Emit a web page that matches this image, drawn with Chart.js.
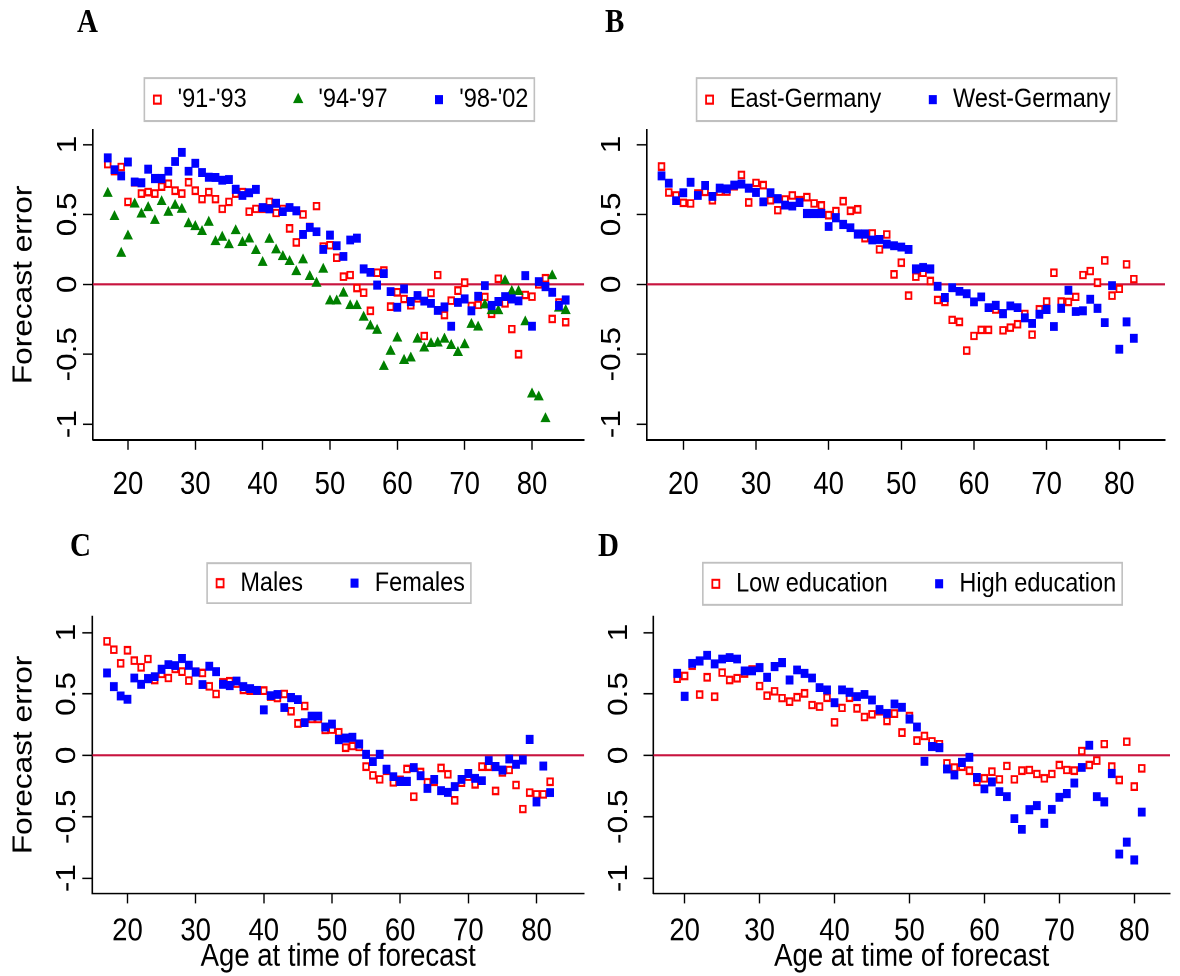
<!DOCTYPE html>
<html>
<head>
<meta charset="utf-8">
<title>Forecast error by age</title>
<script src="https://cdn.jsdelivr.net/npm/chart.js@4.4.1/dist/chart.umd.min.js"></script>
<style>
  html, body { margin: 0; padding: 0; background: #fff; overflow: hidden; }
  /* the figure is laid out 849px tall and stretched to the 976px page */
  #figure { position: absolute; left: 0; top: 0; width: 1180px; height: 849px;
            transform: scaleY(1.1496); transform-origin: 0 0; }
  #figure canvas { position: absolute; }
  .tag { position: absolute; font: bold 29px 'Liberation Serif', 'Times New Roman', serif;
         line-height: 29px; color: #000; }
</style>
</head>
<body>
<div id="figure">
  <canvas id="panelA" width="590" height="430" style="left:0;top:0"></canvas>
  <canvas id="panelB" width="590" height="430" style="left:590px;top:0"></canvas>
  <canvas id="panelC" width="590" height="425" style="left:0;top:424px"></canvas>
  <canvas id="panelD" width="590" height="425" style="left:590px;top:424px"></canvas>
  <div class="tag" style="left:77px;top:4px">A</div>
  <div class="tag" style="left:605px;top:4px">B</div>
  <div class="tag" style="left:70px;top:460px">C</div>
  <div class="tag" style="left:598px;top:460px">D</div>
</div>
<script>
// ---- data -------------------------------------------------------------
const xTicks = [20, 30, 40, 50, 60, 70, 80];
const yTicks = [-1, -0.5, 0, 0.5, 1];

// A: by survey period
const agesA = [17, 18, 19, 20, 21, 22, 23, 24, 25, 26, 27, 28, 29, 30, 31, 32, 33, 34, 35, 36,
  37, 38, 39, 40, 41, 42, 43, 44, 45, 46, 47, 48, 49, 50, 51, 52, 53, 54, 55, 56,
  57, 58, 59, 60, 61, 62, 63, 64, 65, 66, 67, 68, 69, 70, 71, 72, 73, 74, 75, 76,
  77, 78, 79, 80, 81, 82, 83, 84, 85];
const period9193 = [0.86, 0.81, 0.84, 0.59, 0.73, 0.65, 0.66, 0.65, 0.70, 0.72,
  0.67, 0.65, 0.73, 0.67, 0.61, 0.66, 0.61, 0.54, 0.59, 0.65,
  0.66, 0.52, 0.54, 0.54, 0.59, 0.51, 0.54, 0.40, 0.30, 0.50,
  0.41, 0.56, 0.27, 0.28, 0.19, 0.055, 0.067, -0.026, -0.06, -0.19,
  0.083, 0.098, -0.16, -0.057, -0.105, -0.15, -0.10, -0.37, -0.062, 0.067,
  -0.22, -0.117, -0.045, 0.012, -0.155, -0.148, -0.09, -0.21, 0.04, -0.136,
  -0.32, -0.50, -0.076, -0.088, 0.0, 0.043, -0.248, -0.131, -0.271];
const period9497 = [0.65, 0.483, 0.221, 0.345, 0.574, 0.502, 0.548, 0.455, 0.59, 0.514,
  0.564, 0.536, 0.433, 0.412, 0.376, 0.443, 0.305, 0.336, 0.281, 0.383,
  0.298, 0.324, 0.24, 0.155, 0.321, 0.245, 0.198, 0.162, 0.09, 0.174,
  0.055, 0.007, 0.107, -0.12, -0.12, -0.064, -0.155, -0.155, -0.236, -0.30,
  -0.33, -0.59, -0.48, -0.386, -0.545, -0.528, -0.393, -0.457, -0.426, -0.421,
  -0.393, -0.438, -0.488, -0.433, -0.288, -0.307, -0.148, -0.188, -0.19, 0.024,
  -0.052, -0.052, -0.27, -0.786, -0.807, -0.962, 0.06, -0.171, -0.188];
const period9802 = [0.905, 0.82, 0.776, 0.876, 0.733, 0.726, 0.824, 0.757, 0.757, 0.81,
  0.879, 0.945, 0.81, 0.867, 0.80, 0.767, 0.764, 0.745, 0.75, 0.68,
  0.636, 0.655, 0.679, 0.55, 0.54, 0.58, 0.52, 0.55, 0.526, 0.357,
  0.407, 0.376, 0.25, 0.352, 0.276, 0.2, 0.317, 0.33, 0.11, 0.086,
  -0.005, 0.076, -0.052, -0.164, -0.033, -0.124, -0.08, -0.12, -0.136, -0.186,
  -0.162, -0.30, -0.129, -0.105, -0.19, -0.086, -0.01, -0.152, -0.124, -0.088,
  -0.105, -0.119, 0.062, -0.30, 0.019, -0.017, -0.057, -0.152, -0.112];

// B: by region
const agesB = [17, 18, 19, 20, 21, 22, 23, 24, 25, 26, 27, 28, 29, 30, 31, 32, 33, 34, 35, 36,
  37, 38, 39, 40, 41, 42, 43, 44, 45, 46, 47, 48, 49, 50, 51, 52, 53, 54, 55, 56,
  57, 58, 59, 60, 61, 62, 63, 64, 65, 66, 67, 68, 69, 70, 71, 72, 73, 74, 75, 76,
  77, 78, 79, 80, 81, 82];
const eastGermany = [0.843, 0.657, 0.636, 0.583, 0.579, 0.65, 0.662, 0.602, 0.664, 0.664,
  0.702, 0.783, 0.586, 0.726, 0.71, 0.602, 0.531, 0.607, 0.636, 0.602,
  0.624, 0.579, 0.564, 0.495, 0.524, 0.595, 0.526, 0.536, 0.33, 0.364,
  0.25, 0.357, 0.071, 0.155, -0.081, 0.055, 0.083, 0.024, -0.112, -0.126,
  -0.255, -0.269, -0.474, -0.369, -0.326, -0.326, -0.18, -0.329, -0.31, -0.286,
  -0.212, -0.36, -0.179, -0.124, 0.083, -0.124, -0.126, -0.09, 0.067, 0.095,
  0.012, 0.171, -0.081, -0.033, 0.143, 0.038];
const westGermany = [0.776, 0.724, 0.598, 0.655, 0.731, 0.636, 0.707, 0.629, 0.688, 0.683,
  0.71, 0.717, 0.688, 0.657, 0.59, 0.655, 0.612, 0.567, 0.56, 0.586,
  0.507, 0.507, 0.507, 0.414, 0.476, 0.429, 0.405, 0.36, 0.36, 0.317,
  0.32, 0.288, 0.276, 0.267, 0.25, 0.11, 0.121, 0.11, -0.014, -0.095,
  -0.024, -0.05, -0.067, -0.126, -0.09, -0.167, -0.15, -0.21, -0.155, -0.167,
  -0.24, -0.28, -0.214, -0.179, -0.302, -0.171, -0.043, -0.195, -0.19, -0.107,
  -0.171, -0.274, -0.01, -0.464, -0.269, -0.386];

// C: by sex
const agesC = [17, 18, 19, 20, 21, 22, 23, 24, 25, 26, 27, 28, 29, 30, 31, 32, 33, 34, 35, 36,
  37, 38, 39, 40, 41, 42, 43, 44, 45, 46, 47, 48, 49, 50, 51, 52, 53, 54, 55, 56,
  57, 58, 59, 60, 61, 62, 63, 64, 65, 66, 67, 68, 69, 70, 71, 72, 73, 74, 75, 76,
  77, 78, 79, 80, 81, 82];
const males = [0.929, 0.861, 0.75, 0.856, 0.772, 0.717, 0.785, 0.614, 0.663, 0.63,
  0.704, 0.682, 0.609, 0.68, 0.671, 0.5625, 0.5, 0.595, 0.603, 0.584,
  0.533, 0.527, 0.527, 0.527, 0.48, 0.467, 0.5, 0.359, 0.26, 0.402,
  0.296, 0.296, 0.207, 0.21, 0.188, 0.0625, 0.076, 0.068, -0.092, -0.163,
  -0.196, -0.125, -0.22, -0.2, -0.111, -0.337, -0.136, -0.22, -0.215, -0.103,
  -0.155, -0.367, -0.223, -0.174, -0.236, -0.092, -0.092, -0.29, -0.139, -0.12,
  -0.242, -0.4375, -0.304, -0.318, -0.318, -0.215];
const females = [0.671, 0.56, 0.484, 0.457, 0.63, 0.579, 0.625, 0.641, 0.701, 0.739,
  0.731, 0.788, 0.734, 0.679, 0.576, 0.726, 0.682, 0.579, 0.568, 0.606,
  0.56, 0.543, 0.53, 0.37, 0.486, 0.497, 0.389, 0.47, 0.454, 0.266,
  0.32, 0.32, 0.231, 0.255, 0.128, 0.14, 0.147, 0.092, 0.008, -0.052,
  0.008, -0.114, -0.174, -0.212, -0.212, -0.1, -0.166, -0.269, -0.196, -0.288,
  -0.302, -0.255, -0.196, -0.149, -0.1875, -0.207, -0.043, -0.092, -0.12, -0.03,
  -0.073, -0.038, 0.13, -0.38, -0.087, -0.304];

// D: by education
const agesD = [19, 20, 21, 22, 23, 24, 25, 26, 27, 28, 29, 30, 31, 32, 33, 34, 35, 36, 37, 38,
  39, 40, 41, 42, 43, 44, 45, 46, 47, 48, 49, 50, 51, 52, 53, 54, 55, 56, 57, 58,
  59, 60, 61, 62, 63, 64, 65, 66, 67, 68, 69, 70, 71, 72, 73, 74, 75, 76, 77, 78,
  79, 80, 81];
const lowEducation = [0.625, 0.647, 0.73, 0.495, 0.636, 0.478, 0.674, 0.614, 0.628, 0.668,
  0.70, 0.565, 0.486, 0.522, 0.467, 0.4375, 0.473, 0.505, 0.41, 0.397,
  0.47, 0.269, 0.386, 0.47, 0.383, 0.3125, 0.334, 0.36, 0.28, 0.34,
  0.185, 0.32, 0.12, 0.158, 0.114, 0.092, -0.065, -0.1, -0.092, -0.125,
  -0.215, -0.1875, -0.133, -0.196, -0.087, -0.196, -0.125, -0.12, -0.152, -0.1875,
  -0.152, -0.079, -0.12, -0.125, 0.035, -0.079, -0.043, 0.092, -0.092, -0.201,
  0.111, -0.255, -0.106];
const highEducation = [0.668, 0.481, 0.75, 0.769, 0.815, 0.745, 0.785, 0.796, 0.785, 0.6875,
  0.6875, 0.715, 0.636, 0.723, 0.755, 0.614, 0.696, 0.668, 0.63, 0.552,
  0.533, 0.429, 0.533, 0.514, 0.478, 0.497, 0.451, 0.372, 0.342, 0.418,
  0.391, 0.296, 0.231, -0.049, 0.071, 0.0625, -0.111, -0.16, -0.057, -0.016,
  -0.182, -0.274, -0.217, -0.296, -0.337, -0.516, -0.603, -0.443, -0.41, -0.554,
  -0.44, -0.342, -0.3125, -0.226, -0.098, 0.082, -0.337, -0.38, -0.149, -0.804,
  -0.707, -0.853, -0.462];

// ---- styling ----------------------------------------------------------
Chart.defaults.font.family = "'Liberation Sans', Arial, Helvetica, sans-serif";
Chart.defaults.color = '#000';

const TICK_FONT = 27.5;
const TITLE_FONT = 27.5;
const LEGEND_FONT = 23.5;
const LEGEND_GAP = 43;

const hollowRed = { pointStyle: 'rect', pointRadius: 4, pointBorderWidth: 1.8,
  pointBorderColor: '#ff0000', pointBackgroundColor: '#ffffff' };
const blueSquare = { pointStyle: 'rect', pointRadius: 4.8, pointBorderWidth: 1,
  pointBorderColor: '#0000ff', pointBackgroundColor: '#0000ff' };
const greenTriangle = { pointStyle: 'triangle', pointRadius: 4.8, pointBorderWidth: 1,
  pointBorderColor: '#008000', pointBackgroundColor: '#008000' };

function series(label, ages, values, marker, order) {
  return Object.assign({
    label: label, type: 'scatter', order: order, xAxisID: 'x', yAxisID: 'y',
    data: ages.map((age, i) => ({ x: age, y: values[i] }))
  }, marker);
}

// red reference line at zero, across the whole plot
function zeroLine(p) {
  return { type: 'line', order: 9, xAxisID: 'x', yAxisID: 'y',
    data: [{ x: p.xMin, y: 0 }, { x: p.xMax, y: 0 }],
    borderColor: '#c8143f', borderWidth: 1.8, pointRadius: 0, fill: false };
}

// grey frame round the legend entries
const legendFrame = {
  id: 'legendFrame',
  afterDraw(chart, args, opts) {
    const boxes = chart.legend && chart.legend.legendHitBoxes;
    if (!boxes || !boxes.length) return;
    const left = Math.min(...boxes.map(b => b.left)) - 4.5;
    const right = Math.max(...boxes.map(b => b.left + b.width)) + 6;
    const mid = boxes[0].top + boxes[0].height / 2;
    const ctx = chart.ctx;
    ctx.save();
    ctx.strokeStyle = '#c0c0c0';
    ctx.lineWidth = 1.6;
    ctx.strokeRect(left, mid - opts.half, right - left, 2 * opts.half);
    ctx.restore();
  }
};

function drawPanel(id, p) {
  const legendTop = p.legendMid - LEGEND_GAP - LEGEND_FONT / 2;
  return new Chart(document.getElementById(id), {
    type: 'scatter',
    data: { datasets: p.datasets.concat([zeroLine(p)]) },
    options: {
      responsive: false,
      devicePixelRatio: 2,
      animation: false,
      events: [],
      layout: { padding: { top: legendTop, left: 0, right: p.padRight, bottom: 0 } },
      plugins: {
        tooltip: { enabled: false },
        legend: {
          position: 'top',
          fullSize: false,
          labels: {
            usePointStyle: true, boxWidth: 17, boxHeight: 7, padding: LEGEND_GAP,
            font: { size: LEGEND_FONT },
            filter: item => !!item.text,
            sort: (a, b) => a.datasetIndex - b.datasetIndex
          }
        },
        legendFrame: { half: p.frameHalf }
      },
      scales: {
        x: {
          type: 'linear', position: 'bottom', min: p.xMin, max: p.xMax,
          afterBuildTicks: s => { s.ticks = xTicks.map(v => ({ value: v })); },
          afterFit: s => { s.height = p.xAxisHeight; },
          border: { display: true, color: '#000', width: 1.5 },
          grid: { display: true, drawOnChartArea: false, drawTicks: true,
                  tickLength: 8.7, tickWidth: 1.4, tickColor: '#000' },
          ticks: { font: { size: TICK_FONT }, padding: p.xTickPad, maxRotation: 0, autoSkip: false,
                   callback: v => String(v) },
          title: { display: p.xTitle, text: 'Age at time of forecast',
                   font: { size: TITLE_FONT }, padding: { top: 0, bottom: 0 } }
        },
        y: {
          type: 'linear', position: 'left', min: p.yMin, max: p.yMax,
          afterBuildTicks: s => { s.ticks = yTicks.map(v => ({ value: v })); },
          afterFit: s => { s.width = p.yAxisWidth; },
          border: { display: true, color: '#000', width: 1.6 },
          grid: { display: true, drawOnChartArea: false, drawTicks: true,
                  tickLength: 10, tickWidth: 1.3, tickColor: '#000' },
          // labels stand upright, reading bottom to top
          ticks: { font: { size: TICK_FONT }, padding: p.yTickPad, crossAlign: 'center',
                   minRotation: 90, maxRotation: 90, autoSkip: false,
                   callback: v => String(v) },
          title: { display: p.yTitle, text: 'Forecast error',
                   font: { size: TITLE_FONT }, padding: { top: 7.5, bottom: 0 } }
        },
        // empty top axis: keeps the space between the legend and the plot
        gap: {
          type: 'linear', position: 'top', display: true,
          grid: { display: false }, border: { display: false }, ticks: { display: false },
          afterFit: s => { s.height = p.plotTop - legendTop - s.chart.legend.height; }
        }
      }
    },
    plugins: [legendFrame]
  });
}

drawPanel('panelA', {
  datasets: [
    series("'91-'93", agesA, period9193, hollowRed, 3),
    series("'94-'97", agesA, period9497, greenTriangle, 2),
    series("'98-'02", agesA, period9802, blueSquare, 1)
  ],
  xMin: 14.81, xMax: 87.75, yMin: -1.113, yMax: 1.105,
  plotTop: 113, legendMid: 86.6, frameHalf: 18.7,
  padRight: 5, yAxisWidth: 93, xAxisHeight: 47.4, xTickPad: 14, yTickPad: -9,
  yTitle: true, xTitle: false
});

drawPanel('panelB', {
  datasets: [
    series('East-Germany', agesB, eastGermany, hollowRed, 2),
    series('West-Germany', agesB, westGermany, blueSquare, 1)
  ],
  xMin: 14.96, xMax: 86.29, yMin: -1.113, yMax: 1.105,
  plotTop: 113, legendMid: 86.6, frameHalf: 18.7,
  padRight: 15, yAxisWidth: 56.7, xAxisHeight: 47.4, xTickPad: 14, yTickPad: 0.5,
  yTitle: false, xTitle: false
});

drawPanel('panelC', {
  datasets: [
    series('Males', agesC, males, hollowRed, 2),
    series('Females', agesC, females, blueSquare, 1)
  ],
  xMin: 14.84, xMax: 87.0, yMin: -1.125, yMax: 1.131,
  plotTop: 112.3, legendMid: 83.3, frameHalf: 17.4,
  padRight: 3, yAxisWidth: 92.3, xAxisHeight: 71.9, xTickPad: 8, yTickPad: -9,
  yTitle: true, xTitle: true
});

drawPanel('panelD', {
  datasets: [
    series('Low education', agesD, lowEducation, hollowRed, 2),
    series('High education', agesD, highEducation, blueSquare, 1)
  ],
  xMin: 15.84, xMax: 84.77, yMin: -1.125, yMax: 1.131,
  plotTop: 112.3, legendMid: 83.8, frameHalf: 18.3,
  padRight: 10, yAxisWidth: 63.5, xAxisHeight: 71.9, xTickPad: 8, yTickPad: 0.5,
  yTitle: false, xTitle: true
});
</script>
</body>
</html>
